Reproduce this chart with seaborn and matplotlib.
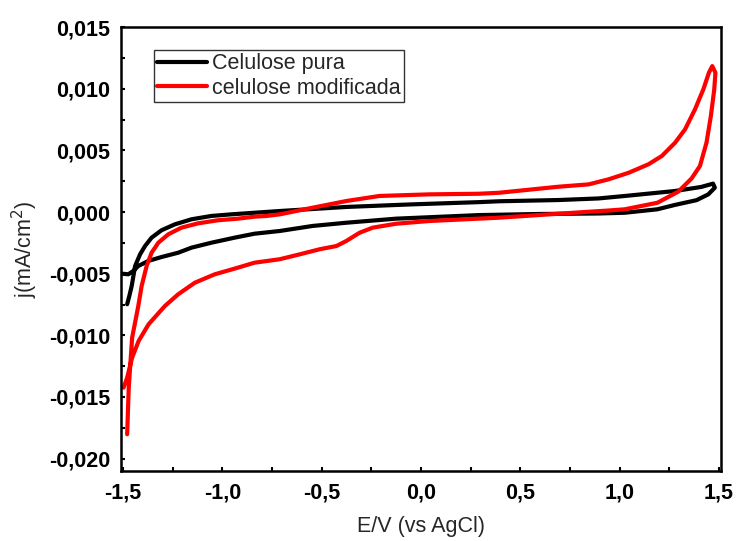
import numpy as np
import pandas as pd
import matplotlib
matplotlib.use("Agg")
import matplotlib.pyplot as plt
import seaborn as sns

# ---- data ----
pura_E = [-1.507, -1.473, -1.448, -1.423, -1.373, -1.306, -1.222, -1.155, -1.055, -0.938,
          -0.838, -0.711, -0.545, -0.376, -0.125, 0.292, 0.600, 0.894, 1.026, 1.190,
          1.277, 1.387, 1.446, 1.479, 1.470,
          1.410, 1.277, 1.026, 0.894, 0.692, 0.393, 0.292, -0.044, -0.376,
          -0.711, -0.838, -0.955, -1.055, -1.155, -1.239, -1.306, -1.356, -1.389, -1.414,
          -1.439, -1.456, -1.468, -1.479]
pura_j = [-0.00500, -0.00505, -0.00478, -0.00438, -0.00397, -0.00365, -0.00330, -0.00289, -0.00249, -0.00208,
          -0.00176, -0.00154, -0.00113, -0.00087, -0.00054, -0.00025, -0.00016, -0.00012, -0.00006, 0.00022,
          0.00057, 0.00096, 0.00143, 0.00197, 0.00230,
          0.00203, 0.00170, 0.00130, 0.00110, 0.00097, 0.00087, 0.00080, 0.00062, 0.00041,
          0.00008, -0.00006, -0.00019, -0.00032, -0.00059, -0.00100, -0.00148, -0.00208, -0.00276, -0.00343,
          -0.00438, -0.00599, -0.00680, -0.00748]

mod_E = [-1.479, -1.471, -1.454, -1.423, -1.406, -1.381, -1.356, -1.322, -1.272, -1.206,
         -1.122, -1.022, -0.921, -0.838, -0.777, -0.711, -0.545, -0.376, -0.209, 0.042,
         0.292, 0.393, 0.692, 0.844, 0.944, 1.045, 1.145, 1.212, 1.279, 1.329,
         1.379, 1.421, 1.449, 1.466, 1.482, 1.476, 1.459, 1.437, 1.404, 1.362,
         1.295, 1.190, 1.026, 0.944, 0.844, 0.393, 0.042, -0.125, -0.243, -0.309,
         -0.376, -0.426, -0.510, -0.610, -0.711, -0.838, -0.938, -1.038, -1.138, -1.222,
         -1.289, -1.371, -1.421, -1.454, -1.479, -1.497]
mod_j = [-0.01802, -0.01424, -0.01019, -0.00762, -0.00599, -0.00438, -0.00330, -0.00249, -0.00181, -0.00127,
         -0.00092, -0.00067, -0.00054, -0.00038, -0.00032, -0.00019, 0.00035, 0.00089, 0.00130, 0.00143,
         0.00148, 0.00156, 0.00205, 0.00224, 0.00265, 0.00318, 0.00387, 0.00454, 0.00562, 0.00670,
         0.00832, 0.00994, 0.01129, 0.01183, 0.01129, 0.00994, 0.00778, 0.00562, 0.00373, 0.00272,
         0.00165, 0.00075, 0.00022, 0.00012, 0.00002, -0.00046, -0.00073, -0.00095, -0.00127, -0.00168,
         -0.00235, -0.00276, -0.00302, -0.00343, -0.00383, -0.00411, -0.00459, -0.00505, -0.00573, -0.00667,
         -0.00762, -0.00910, -0.01045, -0.01181, -0.01343, -0.01424]

series_names = ["Celulose pura", "celulose modificada"]
series_colors = ["#000000", "#ff0000"]

xticks = [-1.5, -1.0, -0.5, 0.0, 0.5, 1.0, 1.5]
xtick_labels = ["-1,5", "-1,0", "-0,5", "0,0", "0,5", "1,0", "1,5"]
yticks = [-0.020, -0.015, -0.010, -0.005, 0.000, 0.005, 0.010, 0.015]
ytick_labels = ["-0,020", "-0,015", "-0,010", "-0,005", "0,000", "0,005", "0,010", "0,015"]

# ---- plot ----
sns.set_style("ticks")
plt.rcParams["font.family"] = ["Liberation Sans", "DejaVu Sans"]

fig = plt.figure(figsize=(7.39, 5.41), dpi=100)
ax = fig.add_axes([121 / 739, 1 - 471 / 541, 600 / 739, 444 / 541])

for E, j, name, col in zip([pura_E, mod_E], [pura_j, mod_j], series_names, series_colors):
    df = pd.DataFrame({"E": E, "j": j})
    sns.lineplot(data=df, x="E", y="j", sort=False, estimator=None, color=col,
                 lw=3.0, label=name, ax=ax, solid_joinstyle="round", solid_capstyle="round")

ax.set_xlim(-1.51, 1.51)
ax.set_ylim(-0.021, 0.015)
ax.set_xticks(xticks, labels=xtick_labels)
ax.set_yticks(yticks, labels=ytick_labels)
ax.set_xticks([-1.25, -0.75, -0.25, 0.25, 0.75, 1.25], minor=True)
ax.set_yticks([-0.0175, -0.0125, -0.0075, -0.0025, 0.0025, 0.0075, 0.0125], minor=True)

for lab in ax.get_xticklabels() + ax.get_yticklabels():
    lab.set_fontweight("bold")
ax.tick_params(axis="both", which="both", direction="in", width=1.5, length=3,
               labelsize=15.5, colors="black")
ax.tick_params(axis="x", which="major", pad=8)
ax.tick_params(axis="y", which="major", pad=8)

for sp in ax.spines.values():
    sp.set_linewidth(1.8)
    sp.set_color("black")
    sp.set_visible(True)

ax.set_xlabel("E/V (vs AgCl)", fontsize=15.5, labelpad=9)
ax.set_ylabel("j(mA/cm$^2$)", fontsize=15.5, labelpad=6)

leg = ax.legend(loc="upper left", bbox_to_anchor=(0.055, 0.948), fontsize=15.5,
                frameon=True, fancybox=False, shadow=False, borderpad=0.15,
                handlelength=2.3, handletextpad=0.25, labelspacing=0.15,
                borderaxespad=0.0)
leg.get_frame().set_edgecolor("#333333")
leg.get_frame().set_linewidth(1.0)
leg.get_frame().set_alpha(1.0)
for line in leg.get_lines():
    line.set_linewidth(3.0)

fig.savefig("out.png", dpi=100)
